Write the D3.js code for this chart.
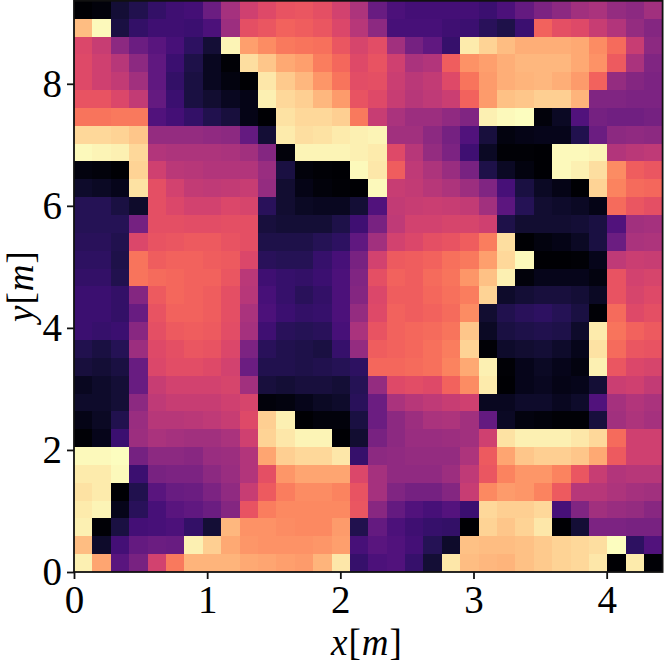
<!DOCTYPE html>
<html>
<head>
<meta charset="utf-8">
<script src="https://cdn.jsdelivr.net/npm/d3@7"></script>
<style>
  html, body { margin: 0; padding: 0; background: #fff; }
  svg { display: block; }
</style>
</head>
<body>
<div id="chart-area"></div>
<script>
// cell values, top row first (0-100 on the magma ramp)
var cells = [
  [0,2,10,14,18,21,22,32,46,56,60,63,64,62,57,48,31,24,22,22,22,22,20,24,30,36,40,45,47,42,40,45],
  [86,99,12,18,21,21,20,24,44,62,64,67,66,64,59,50,40,23,23,23,21,20,16,13,20,67,62,60,54,49,42,38],
  [59,54,40,32,27,23,17,10,98,80,76,72,71,70,64,58,61,45,34,29,19,96,91,86,83,83,83,82,76,69,54,40],
  [60,56,50,40,29,20,13,6,1,93,88,82,80,73,68,60,63,56,47,49,66,77,80,83,85,85,85,82,77,65,47,37],
  [60,56,53,45,29,18,12,6,3,0,95,89,85,78,71,61,62,55,51,53,60,71,79,83,84,85,83,79,67,42,38,36],
  [63,63,59,53,30,20,12,9,6,4,97,92,90,85,79,63,60,54,50,52,55,67,79,87,88,90,90,84,37,37,36,36],
  [71,71,72,72,25,22,18,14,11,4,0,94,92,92,90,72,54,47,44,44,41,37,97,99,100,2,7,25,34,33,33,34],
  [92,92,91,88,42,42,42,41,40,30,10,96,93,94,96,97,98,45,45,40,34,25,11,3,4,5,5,14,32,40,41,40],
  [99,98,97,92,49,48,48,48,47,45,38,2,98,98,98,97,96,60,50,42,36,21,7,1,1,0,99,99,98,49,51,52],
  [3,2,0,91,56,51,50,49,49,49,43,12,2,1,0,99,95,66,52,48,43,35,13,7,3,0,99,97,93,76,66,64],
  [8,7,5,94,62,57,53,52,53,54,42,9,4,2,1,0,99,54,53,50,48,44,37,23,12,7,4,0,91,74,69,68],
  [15,15,12,8,62,59,57,57,59,58,16,9,7,6,6,10,25,53,54,55,54,53,45,28,15,9,8,7,4,69,64,62],
  [15,15,15,34,62,62,61,61,62,62,11,10,10,10,13,21,35,52,57,57,58,58,56,13,9,9,9,10,12,25,45,46],
  [16,16,14,59,63,64,65,65,63,62,13,13,13,15,17,29,45,57,59,62,63,66,73,93,0,3,4,7,12,32,47,48],
  [17,17,13,71,66,67,67,66,65,59,16,15,15,19,23,35,57,65,66,67,70,72,80,92,99,0,0,1,5,52,55,54],
  [18,18,14,71,69,68,67,67,64,51,21,19,18,20,24,37,62,67,66,69,71,78,87,97,2,5,5,5,3,63,57,58],
  [20,20,18,38,65,68,67,66,62,50,23,19,16,18,24,38,59,66,66,68,70,73,91,8,10,11,11,10,7,63,58,60],
  [20,20,18,31,63,67,67,66,62,47,24,20,18,19,24,42,60,67,66,67,69,76,9,14,16,17,15,12,1,69,60,62],
  [20,19,20,39,62,65,66,65,61,46,21,16,15,16,23,47,63,67,68,69,71,88,7,12,13,14,13,8,96,71,67,65],
  [14,12,15,44,60,62,64,63,59,36,16,14,13,12,19,42,66,67,68,70,73,91,1,8,9,10,8,5,94,69,64,63],
  [11,10,12,31,59,61,61,60,57,32,14,14,13,14,15,17,68,68,69,70,74,82,97,1,5,7,5,3,97,64,59,58],
  [6,8,10,31,54,57,57,57,58,45,11,10,11,11,10,15,42,60,61,60,67,76,96,0,5,6,4,5,10,55,56,53],
  [8,8,10,40,52,54,54,54,56,58,2,3,5,7,8,16,32,47,50,52,54,56,6,6,8,8,6,8,25,46,49,47],
  [4,7,14,43,50,50,51,52,54,60,90,97,0,2,2,12,32,40,44,47,48,45,30,7,3,2,1,1,11,45,48,46],
  [1,5,20,44,47,46,45,45,47,56,91,95,98,98,0,9,35,40,43,43,44,45,56,94,97,97,97,95,92,69,56,56],
  [99,99,100,34,40,40,39,43,44,49,81,90,92,92,95,19,40,41,42,42,42,48,65,81,88,90,90,88,82,65,56,56],
  [96,96,99,20,35,36,36,40,43,49,62,78,81,81,81,59,46,41,41,41,44,52,64,74,78,78,74,64,54,49,50,50],
  [94,96,0,14,27,31,32,36,41,54,65,73,76,76,74,63,46,37,34,34,38,54,75,79,78,74,65,50,50,48,46,45],
  [96,98,5,16,23,27,29,32,38,63,73,75,75,75,75,64,39,30,25,23,26,20,92,90,90,92,23,37,45,43,42,39],
  [97,1,12,22,23,24,18,10,85,77,77,76,75,75,79,14,30,24,21,19,18,0,91,88,91,95,0,10,36,36,35,35],
  [86,8,22,30,32,31,97,90,82,78,77,77,77,78,80,23,27,25,22,15,8,87,86,86,87,89,91,92,93,100,17,25],
  [97,81,27,35,57,72,84,84,84,82,81,80,79,84,95,19,24,25,19,10,95,86,85,84,87,89,91,92,95,0,96,1]
];
var xTicks = [0, 1, 2, 3, 4];
var yTicks = [0, 2, 4, 6, 8];

var xMax = 4.42;
var yMax = 9.36;

var svg = d3.select("#chart-area")
  .append("svg")
  .attr("width", 664)
  .attr("height", 664);

var x = d3.scaleLinear().domain([0, xMax]).range([74, 662.6]);
var y = d3.scaleLinear().domain([0, yMax]).range([572, 0.8]);
var color = d3.scaleSequential(d3.interpolateMagma).domain([0, 100]);

var dx = xMax / cells[0].length;
var dy = yMax / cells.length;

svg.append("g")
  .selectAll("g")
  .data(cells)
  .enter().append("g")
  .each(function(row, r) {
    d3.select(this).selectAll("rect")
      .data(row)
      .enter().append("rect")
      .attr("x", function(d, c) { return x(c * dx); })
      .attr("y", y(yMax - r * dy))
      .attr("width", x(dx) - x(0))
      .attr("height", y(0) - y(dy))
      .attr("fill", function(d) { return color(d); })
      .attr("shape-rendering", "crispEdges");
  });

// frame
svg.append("rect")
  .attr("x", x(0))
  .attr("y", y(yMax))
  .attr("width", x(xMax) - x(0))
  .attr("height", y(0) - y(yMax))
  .attr("fill", "none")
  .attr("stroke", "#111")
  .attr("stroke-width", 1.8);

var xAxis = svg.append("g")
  .attr("transform", "translate(0," + y(0) + ")")
  .call(d3.axisBottom(x).tickValues(xTicks).tickSizeInner(7).tickSizeOuter(0).tickPadding(6).tickFormat(d3.format("d")));

var yAxis = svg.append("g")
  .attr("transform", "translate(" + x(0) + ",0)")
  .call(d3.axisLeft(y).tickValues(yTicks).tickSizeInner(7).tickSizeOuter(0).tickPadding(5).tickFormat(d3.format("d")));

[xAxis, yAxis].forEach(function(axis) {
  axis.select(".domain").remove();
  axis.selectAll("line").attr("stroke", "#111").attr("stroke-width", 1.8);
  axis.selectAll("text")
    .attr("font-family", "'Liberation Serif', serif")
    .attr("font-size", "39px")
    .attr("fill", "#000");
});

function axisLabel(sel, letter) {
  sel.attr("text-anchor", "middle")
    .attr("font-family", "'Liberation Serif', serif")
    .attr("font-size", "37px")
    .attr("letter-spacing", "1px")
    .attr("fill", "#000");
  sel.append("tspan").attr("font-style", "italic").text(letter);
  sel.append("tspan").text("[");
  sel.append("tspan").attr("font-style", "italic").text("m");
  sel.append("tspan").text("]");
}

svg.append("text")
  .attr("x", 367)
  .attr("y", 655)
  .call(axisLabel, "x");

svg.append("text")
  .attr("transform", "translate(33,286) rotate(-90)")
  .call(axisLabel, "y");
</script>
</body>
</html>
